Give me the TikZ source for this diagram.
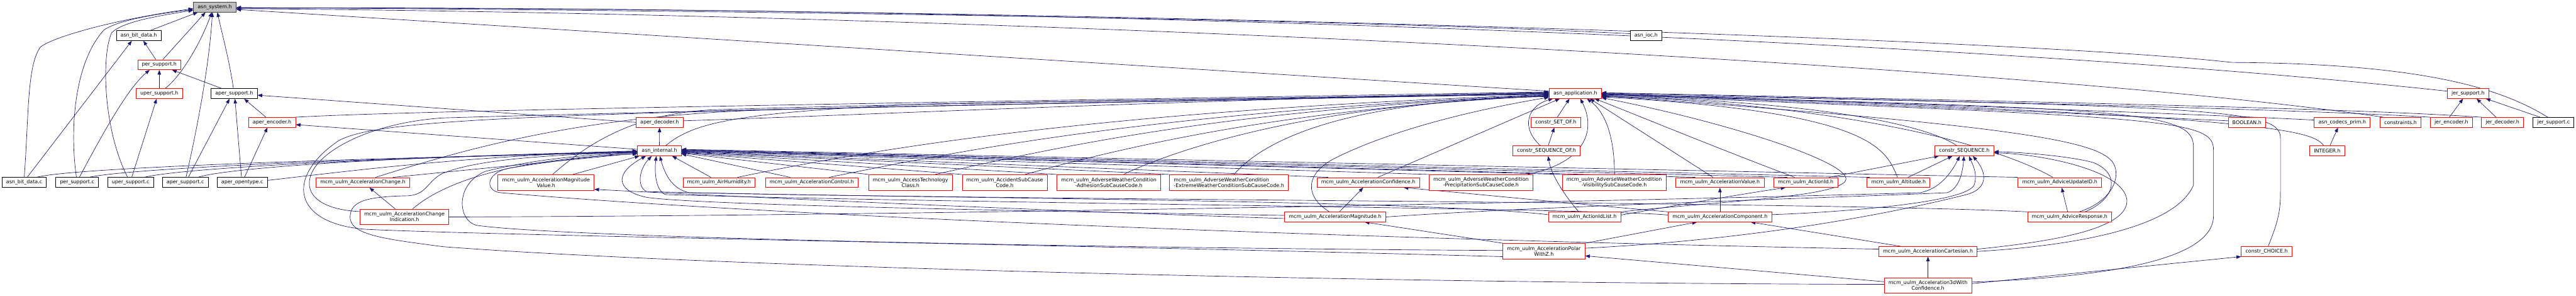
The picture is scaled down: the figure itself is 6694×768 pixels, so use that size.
\documentclass[tikz,border=0pt]{standalone}
\usepackage{fontspec}
\newfontfamily\dvfont{DejaVu Sans}
\usetikzlibrary{arrows.meta}
\pgfdeclarelayer{bg}
\pgfdeclarelayer{edges}
\pgfsetlayers{bg,edges,main}
\definecolor{edgec}{HTML}{191970}
\definecolor{rootfill}{HTML}{BFBFBF}
\begin{document}
\begin{tikzpicture}[x=1pt,y=1pt,
  box/.style={draw=black, line width=1.3pt, fill=white, inner xsep=11pt, inner ysep=2pt,
    minimum height=25.5pt, align=center, font=\dvfont\fontsize{13}{14.7}\selectfont, text=black},
  rbox/.style={box, draw=red},
  rbox2/.style={rbox, minimum height=40.5pt},
  root/.style={box, fill=rootfill, draw=black!75},
  e/.style={draw=edgec, line width=1.1pt, -{Triangle[length=12pt,width=9pt]}}]
\begin{pgfonlayer}{bg}
\fill[white] (0,0) rectangle (6694,-768);
\end{pgfonlayer}
\useasboundingbox (0,0) rectangle (6694,-768);

% ---------- nodes ----------
\node[root] (S) at (558,-18.5) {asn\_system.h};
\node[box] (BDH) at (360.5,-92.5) {asn\_bit\_data.h};
\node[box] (IOC) at (4277.5,-92.5) {asn\_ioc.h};
\node[rbox] (PSH) at (414,-168) {per\_support.h};
\node[rbox] (UPSH) at (414,-243) {uper\_support.h};
\node[box] (APSH) at (608.5,-243) {aper\_support.h};
\node[rbox] (A) at (4093.5,-242.5) {asn\_application.h};
\node[rbox] (JSH) at (6413.5,-242.5) {jer\_support.h};
\node[rbox] (AENC) at (707,-317.5) {aper\_encoder.h};
\node[rbox] (ADEC) at (1714,-317.5) {aper\_decoder.h};
\node[rbox] (SETOF) at (4043,-317.5) {constr\_SET\_OF.h};
\node[rbox] (BOOL) at (5839,-317.5) {BOOLEAN.h};
\node[rbox] (ACP) at (6086.5,-317.5) {asn\_codecs\_prim.h};
\node[rbox] (CONS) at (6238,-317.5) {constraints.h};
\node[rbox] (JENC) at (6370,-317.5) {jer\_encoder.h};
\node[rbox] (JDEC) at (6503,-317.5) {jer\_decoder.h};
\node[box] (JSC) at (6635.5,-317.5) {jer\_support.c};
\node[rbox] (I) at (1713.5,-391.5) {asn\_internal.h};
\node[rbox] (SQO) at (4019,-391.5) {constr\_SEQUENCE\_OF.h};
\node[rbox] (SEQ) at (5104.5,-391.5) {constr\_SEQUENCE.h};
\node[rbox] (INT) at (6047.5,-391.5) {INTEGER.h};
\node[box] (BDC) at (63,-473) {asn\_bit\_data.c};
\node[box] (PSC) at (200.5,-473) {per\_support.c};
\node[box] (UPSC) at (339.5,-473) {uper\_support.c};
\node[box] (APSC) at (481.5,-473) {aper\_support.c};
\node[box] (AOC) at (629.5,-473) {aper\_opentype.c};
\node[rbox] (ACH) at (943,-473.5) {mcm\_uulm\_AccelerationChange.h};
\node[rbox2] (AMV) at (1419,-473.5) {mcm\_uulm\_AccelerationMagnitude\\Value.h};
\node[rbox] (AH) at (1868.5,-473.5) {mcm\_uulm\_AirHumidity.h};
\node[rbox] (ACTL) at (2109.5,-473.5) {mcm\_uulm\_AccelerationControl.h};
\node[rbox2] (ATC) at (2366,-473.5) {mcm\_uulm\_AccessTechnology\\Class.h};
\node[rbox2] (ASC) at (2611,-473.5) {mcm\_uulm\_AccidentSubCause\\Code.h};
\node[rbox2] (WAD) at (2881.5,-473.5) {mcm\_uulm\_AdverseWeatherCondition\\-AdhesionSubCauseCode.h};
\node[rbox2,align=left] (WEX) at (3193.5,-473.5) {mcm\_uulm\_AdverseWeatherCondition\\-ExtremeWeatherConditionSubCauseCode.h};
\node[rbox] (ACONF) at (3555.5,-473.5) {mcm\_uulm\_AccelerationConfidence.h};
\node[rbox2] (WPR) at (3848.5,-473.5) {mcm\_uulm\_AdverseWeatherCondition\\-PrecipitationSubCauseCode.h};
\node[rbox2] (WVI) at (4194.5,-473.5) {mcm\_uulm\_AdverseWeatherCondition\\-VisibilitySubCauseCode.h};
\node[rbox] (AVAL) at (4469.5,-473.5) {mcm\_uulm\_AccelerationValue.h};
\node[rbox] (AID) at (4692.5,-473.5) {mcm\_uulm\_ActionId.h};
\node[rbox] (ALT) at (4933.5,-473.5) {mcm\_uulm\_Altitude.h};
\node[rbox] (AUID) at (5352.5,-473.5) {mcm\_uulm\_AdviceUpdateID.h};
\node[rbox2] (ACHI) at (1051,-563) {mcm\_uulm\_AccelerationChange\\Indication.h};
\node[rbox] (AMAG) at (3469.5,-563) {mcm\_uulm\_AccelerationMagnitude.h};
\node[rbox] (AIDL) at (4117.5,-563) {mcm\_uulm\_ActionIdList.h};
\node[rbox] (ACOMP) at (4469.5,-563) {mcm\_uulm\_AccelerationComponent.h};
\node[rbox] (ARESP) at (5378,-563) {mcm\_uulm\_AdviceResponse.h};
\node[rbox2] (APZ) at (4012,-652) {mcm\_uulm\_AccelerationPolar\\WithZ.h};
\node[rbox] (ACART) at (5010,-652.5) {mcm\_uulm\_AccelerationCartesian.h};
\node[rbox] (CH) at (5890,-652.5) {constr\_CHOICE.h};
\node[rbox2] (A3D) at (5010,-741) {mcm\_uulm\_Acceleration3dWith\\Confidence.h};

% ---------- edges ----------
\begin{pgfonlayer}{edges}
% top-left cluster
\draw[e] ([xshift=30]BDH.north) -- ([xshift=-44]S.south);
\draw[e] ([xshift=-9]PSH.north) -- ([xshift=12]BDH.south);
\draw[e] ([xshift=9]PSH.north) -- ([xshift=-24]S.south);
\draw[e] (UPSH) -- (PSH);
\draw[e] ([xshift=15]UPSH.north) .. controls (480,-190) and (530,-90) .. ([xshift=-8]S.south);
\draw[e] ([xshift=-32]APSH.north) -- ([xshift=33]PSH.south);
\draw[e] ([xshift=-2]APSH.north) .. controls (597,-160) and (575,-80) .. ([xshift=7]S.south);
\draw[e] (BDC.north) .. controls (75,-300) and (70,-170) .. (105,-122) .. controls (140,-95) and (300,-50) .. ([yshift=-4]S.west);
\draw[e] ([xshift=8]BDC.north) -- ([xshift=-18]BDH.south);
\draw[e] ([xshift=-2]PSC.north) .. controls (180,-330) and (195,-160) .. (270,-78) .. controls (310,-50) and (420,-35) .. ([yshift=-6]S.west);
\draw[e] ([xshift=6]PSC.north) .. controls (260,-360) and (330,-230) .. ([xshift=-25]PSH.south);
\draw[e] ([xshift=-8]UPSC.north) .. controls (270,-340) and (262,-150) .. (290,-85) .. controls (320,-55) and (420,-40) .. ([yshift=-8]S.west);
\draw[e] ([xshift=3]UPSC.north) -- ([xshift=-7]UPSH.south);
\draw[e] ([xshift=2]APSC.north) .. controls (520,-300) and (545,-150) .. ([xshift=-6]S.south);
\draw[e] ([xshift=8]APSC.north) -- ([xshift=-12]APSH.south);
\draw[e] ([xshift=-2]AOC.north) -- ([xshift=2]APSH.south);
\draw[e] ([xshift=6]AOC.north) -- ([xshift=-12]AENC.south);
\draw[e] ([xshift=-16]AENC.north) -- ([xshift=26]APSH.south);
\draw[e] (ADEC.west) -- ([yshift=-4]APSH.east);
\draw[e] (I) -- (ADEC);
\draw[e] ([yshift=4]I.west) -- ([yshift=-6]AENC.east);
% .c files -> asn_internal.h
\draw[e] ([xshift=34]BDC.north) .. controls (150,-445) and (500,-420) .. ([yshift=-4]I.west);
\draw[e] ([xshift=33]PSC.north) .. controls (300,-445) and (650,-418) .. ([yshift=-3]I.west);
\draw[e] ([xshift=37]UPSC.north) .. controls (450,-442) and (800,-415) .. ([yshift=-2]I.west);
\draw[e] ([xshift=34]APSC.north) .. controls (580,-440) and (900,-410) .. ([yshift=-1]I.west);
\draw[e] ([yshift=5]AOC.east) .. controls (900,-445) and (1200,-405) .. (I.west);
% left mcm -> asn_internal.h
\draw[e] ([xshift=78]ACH.north) -- ([yshift=-6]I.west);
\draw[e] ([xshift=70]AMV.north) -- ([xshift=-52]I.south);
\draw[e] ([xshift=21]ACHI.north) .. controls (1180,-450) and (1400,-410) .. ([yshift=-8]I.west);
\draw[e] ([xshift=-24]ACHI.north) -- ([xshift=17]ACH.south);
% right mcm -> asn_internal.h
\draw[e] ([xshift=-21]AH.north) -- ([xshift=33]I.south);
\draw[e] ([xshift=-56]ACTL.north) -- ([yshift=-8]I.east);
\draw[e] (ATC.north west) -- ([yshift=-6]I.east);
\draw[e] (ASC.north west) -- ([yshift=-5]I.east);
\draw[e] (WAD.north west) -- ([yshift=-4]I.east);
\draw[e] (WEX.north west) -- ([yshift=-3]I.east);
\draw[e] ([xshift=-104]ACONF.north) -- ([yshift=-2]I.east);
\draw[e] (WPR.north west) -- ([yshift=-1]I.east);
\draw[e] (WVI.north west) -- (I.east);
\draw[e] ([xshift=-64]AVAL.north) -- ([yshift=1]I.east);
\draw[e] ([xshift=-48]AID.north) -- ([yshift=2]I.east);
\draw[e] ([xshift=-75]ALT.north) -- ([yshift=3]I.east);
\draw[e] (AUID.north west) -- ([yshift=4]I.east);
% -> asn_application.h from the left
\draw[e] (AENC.north east) .. controls (1100,-285) and (2500,-265) .. ([yshift=4]A.west);
\draw[e] ([yshift=4]ADEC.east) .. controls (2200,-300) and (3000,-262) .. ([yshift=3]A.west);
\draw[e] ([xshift=16]I.north) .. controls (1800,-320) and (1900,-292) .. (2400,-270) .. controls (3000,-258) and (3600,-250) .. ([yshift=2]A.west);
\draw[e] ([xshift=33]ACH.north) .. controls (1200,-390) and (1500,-300) .. (2000,-285) .. controls (2800,-265) and (3500,-256) .. ([yshift=1]A.west);
\draw[e] ([xshift=17]AMV.north) .. controls (1530,-370) and (1650,-295) .. (1850,-285) .. controls (2600,-262) and (3500,-254) .. (A.west);
\draw[e] ([xshift=48]AH.north) .. controls (2300,-380) and (2900,-285) .. ([yshift=-3]A.west);
\draw[e] ([xshift=45]ACTL.north) .. controls (2500,-390) and (3000,-290) .. ([yshift=-4]A.west);
\draw[e] ([xshift=64]ATC.north) .. controls (2800,-370) and (3200,-285) .. ([yshift=-5]A.west);
\draw[e] ([xshift=53]ASC.north) .. controls (3000,-360) and (3400,-280) .. ([yshift=-6]A.west);
\draw[e] ([xshift=38]WAD.north) .. controls (3050,-390) and (3400,-270) .. ([yshift=-7]A.west);
\draw[e] ([xshift=13]WEX.north) .. controls (3270,-380) and (3450,-262) .. ([yshift=-8]A.west);
\draw[e] ([xshift=25]ACONF.north) -- ([xshift=-40]A.south);
\draw[e] ([xshift=-15]AMAG.north) .. controls (3390,-510) and (3390,-450) .. (3470,-410) .. controls (3600,-345) and (3800,-290) .. ([yshift=-10]A.west);
\draw[e] ([xshift=4]SETOF.north) -- ([xshift=-15]A.south);
\draw[e] ([xshift=4]SQO.north) -- ([xshift=-4]SETOF.south);
\draw[e] ([xshift=-16]SQO.north) .. controls (3950,-330) and (3970,-275) .. ([xshift=-58]A.south);
\draw[e] ([xshift=-15]WPR.north east) .. controls (4130,-420) and (4145,-330) .. ([xshift=13]A.south);
\draw[e] ([xshift=1]WVI.north) .. controls (4195,-350) and (4170,-290) .. ([xshift=30]A.south);
\draw[e] ([xshift=-18]AVAL.north) -- ([xshift=38]A.south);
\draw[e] ([xshift=-29]AID.north) .. controls (4450,-380) and (4220,-285) .. ([xshift=50]A.south);
\draw[e] ([yshift=-14]APZ.west) .. controls (3000,-640) and (1300,-612) .. (950,-595) .. controls (760,-580) and (740,-460) .. (880,-365) .. controls (1000,-300) and (1500,-292) .. ([yshift=-1]A.west);
\draw[e] ([yshift=14]ACHI.west) .. controls (850,-545) and (795,-515) .. (805,-465) .. controls (815,-400) and (950,-320) .. (1150,-306) .. controls (1700,-290) and (3000,-260) .. ([yshift=-2]A.west);
% -> asn_application.h from the right
\draw[e] (AIDL.north east) .. controls (4500,-520) and (4790,-510) .. (4797,-465) .. controls (4800,-420) and (4500,-320) .. ([yshift=-11]A.east);
\draw[e] ([xshift=-3]ALT.north) .. controls (4900,-380) and (4850,-290) .. ([yshift=-9]A.east);
\draw[e] ([xshift=-19]SEQ.north) .. controls (5000,-320) and (4700,-262) .. ([yshift=-8]A.east);
\draw[e] ([xshift=-18]AUID.north) .. controls (5150,-355) and (4700,-268) .. ([yshift=-7]A.east);
\draw[e] ([xshift=25]ARESP.north) .. controls (5480,-525) and (5510,-470) .. (5495,-430) .. controls (5470,-370) and (5300,-330) .. ([yshift=-6]A.east);
\draw[e] (ACART.east) .. controls (5350,-640) and (5650,-600) .. (5700,-480) -- (5700,-382) .. controls (5700,-290) and (5560,-280) .. ([yshift=-5]A.east);
\draw[e] ([yshift=9]A3D.east) .. controls (5450,-720) and (5752,-680) .. (5752,-560) -- (5752,-390) .. controls (5752,-310) and (5650,-305) .. ([yshift=-4]A.east);
\draw[e] ([xshift=4]CH.north) .. controls (5926,-560) and (5926,-540) .. (5926,-480) -- (5926,-360) .. controls (5926,-285) and (5800,-275) .. ([yshift=-3]A.east);
\draw[e] ([yshift=4]BOOL.west) .. controls (5500,-300) and (5000,-275) .. ([yshift=-2]A.east);
\draw[e] ([xshift=-9]INT.north) .. controls (6010,-340) and (5930,-300) .. ([yshift=-1]A.east);
\draw[e] ([xshift=7]INT.north) -- ([xshift=-11]ACP.south);
\draw[e] ([yshift=6]ACP.west) .. controls (5800,-300) and (5000,-270) .. (A.east);
\draw[e] (JENC.north west) .. controls (6000,-285) and (5200,-265) .. ([yshift=1]A.east);
\draw[e] (JDEC.north west) .. controls (6100,-280) and (5200,-262) .. ([yshift=2]A.east);
% -> asn_system.h from the right
\draw[e] ([yshift=6]A.west) -- ([yshift=-6]S.east);
\draw[e] ([yshift=5]IOC.west) .. controls (3500,-50) and (2000,-28) .. ([yshift=-1]S.east);
\draw[e] ([xshift=-15]JSC.north) .. controls (6500,-230) and (6300,-165) .. (5800,-162) .. controls (5200,-95) and (2500,-15) .. ([yshift=-3]S.east);
\draw[e] ([yshift=6]JSH.west) .. controls (5000,-90) and (2500,-15) .. ([yshift=-2]S.east);
\draw[e] ([xshift=-45]CONS.north) .. controls (5200,-160) and (2500,-35) .. ([yshift=-4]S.east);
% jer
\draw[e] ([xshift=-5]JENC.north) -- ([xshift=-13]JSH.south);
\draw[e] ([xshift=-17]JDEC.north) -- ([xshift=22]JSH.south);
\draw[e] ([xshift=-35]JSC.north) -- ([xshift=46]JSH.south);
% constr_SEQUENCE.h
\draw[e] ([xshift=25]ALT.north) -- ([xshift=-31]SEQ.south);
\draw[e] ([xshift=60]AID.north) -- ([xshift=-66]SEQ.south);
\draw[e] (ACHI.east) .. controls (2500,-560) and (4500,-515) .. (4990,-500) .. controls (5040,-490) and (5070,-450) .. ([xshift=-12]SEQ.south);
\draw[e] (AMAG.east) .. controls (4000,-535) and (4800,-512) .. (5060,-500) .. controls (5090,-490) and (5100,-450) .. ([xshift=-1]SEQ.south);
\draw[e] ([yshift=6]ACOMP.east) .. controls (4800,-550) and (5110,-525) .. (5130,-480) .. controls (5140,-450) and (5125,-425) .. ([xshift=12]SEQ.south);
\draw[e] ([yshift=8]APZ.east) .. controls (4500,-625) and (4850,-570) .. (5110,-505) .. controls (5165,-490) and (5165,-450) .. ([xshift=22]SEQ.south);
\draw[e] ([xshift=40]ARESP.north) .. controls (5500,-515) and (5510,-450) .. (5440,-422) .. controls (5380,-405) and (5250,-395) .. ([yshift=-2]SEQ.east);
\draw[e] ([yshift=6]ACART.east) .. controls (5300,-630) and (5530,-600) .. (5527,-520) .. controls (5520,-440) and (5300,-400) .. ([yshift=-5]SEQ.east);
% lower mcm structure
\draw[e] ([xshift=-5]ARESP.north) -- ([xshift=5]AUID.south);
\draw[e] (ARESP.north west) .. controls (4700,-522) and (2500,-520) .. (1680,-497) .. controls (1655,-485) and (1660,-440) .. ([xshift=-20]I.south);
\draw[e] ([yshift=5]ACOMP.west) .. controls (4150,-540) and (2500,-528) .. (1730,-505) .. controls (1705,-497) and (1700,-450) .. ([xshift=-8]I.south);
\draw[e] ([yshift=6]AIDL.west) .. controls (3700,-520) and (2500,-515) .. (1790,-500) .. controls (1750,-490) and (1730,-460) .. ([xshift=1]I.south);
\draw[e] ([yshift=4]AMAG.west) .. controls (2500,-545) and (1800,-530) .. (1680,-512) .. controls (1600,-495) and (1595,-450) .. ([xshift=-35]I.south);
\draw[e] ([yshift=-4]AMAG.west) .. controls (2800,-550) and (2000,-515) .. ([yshift=3]AMV.south east);
\draw[e] (APZ.north west) -- ([xshift=77]AMAG.south);
\draw[e] (APZ.north east) -- ([xshift=-60]ACOMP.south);
\draw[e] ([yshift=2]APZ.west) .. controls (3000,-645) and (1500,-620) .. (1240,-585) .. controls (1190,-575) and (1180,-480) .. (1260,-445) .. controls (1400,-410) and (1550,-400) .. ([yshift=-5]I.west);
\draw[e] ([yshift=3]A3D.west) .. controls (3500,-735) and (1800,-690) .. (1150,-640) .. controls (1000,-620) and (905,-610) .. (910,-560) .. controls (912,-520) and (960,-510) .. (1060,-508) .. controls (1110,-505) and (1110,-470) .. (1150,-450) .. controls (1250,-410) and (1450,-402) .. ([yshift=-3]I.west);
\draw[e] ([yshift=10]A3D.west) -- ([yshift=-12]APZ.east);
\draw[e] (A3D) -- (ACART);
\draw[e] ([yshift=5]A3D.east) -- (CH.south west);
\draw[e] ([xshift=-71]ACART.north) -- ([xshift=80]ACOMP.south);
\draw[e] ([yshift=6]ACART.west) .. controls (3500,-620) and (2000,-560) .. (1300,-500) .. controls (1260,-495) and (1262,-450) .. (1320,-437) .. controls (1450,-415) and (1560,-405) .. ([yshift=-2]I.west);
\draw[e] (ACOMP) -- (AVAL);
\draw[e] (ACOMP.north west) .. controls (4100,-530) and (3800,-500) .. ([xshift=92]ACONF.south);
\draw[e] ([xshift=-15]AIDL.north) .. controls (4060,-500) and (4030,-450) .. ([xshift=4]SQO.south);
\draw[e] ([yshift=5]AIDL.east) .. controls (4400,-525) and (4550,-500) .. ([xshift=-53]AID.south);
\draw[e] ([xshift=11]AMAG.north) -- ([xshift=-13]ACONF.south);
\end{pgfonlayer}
\end{tikzpicture}
\end{document}
